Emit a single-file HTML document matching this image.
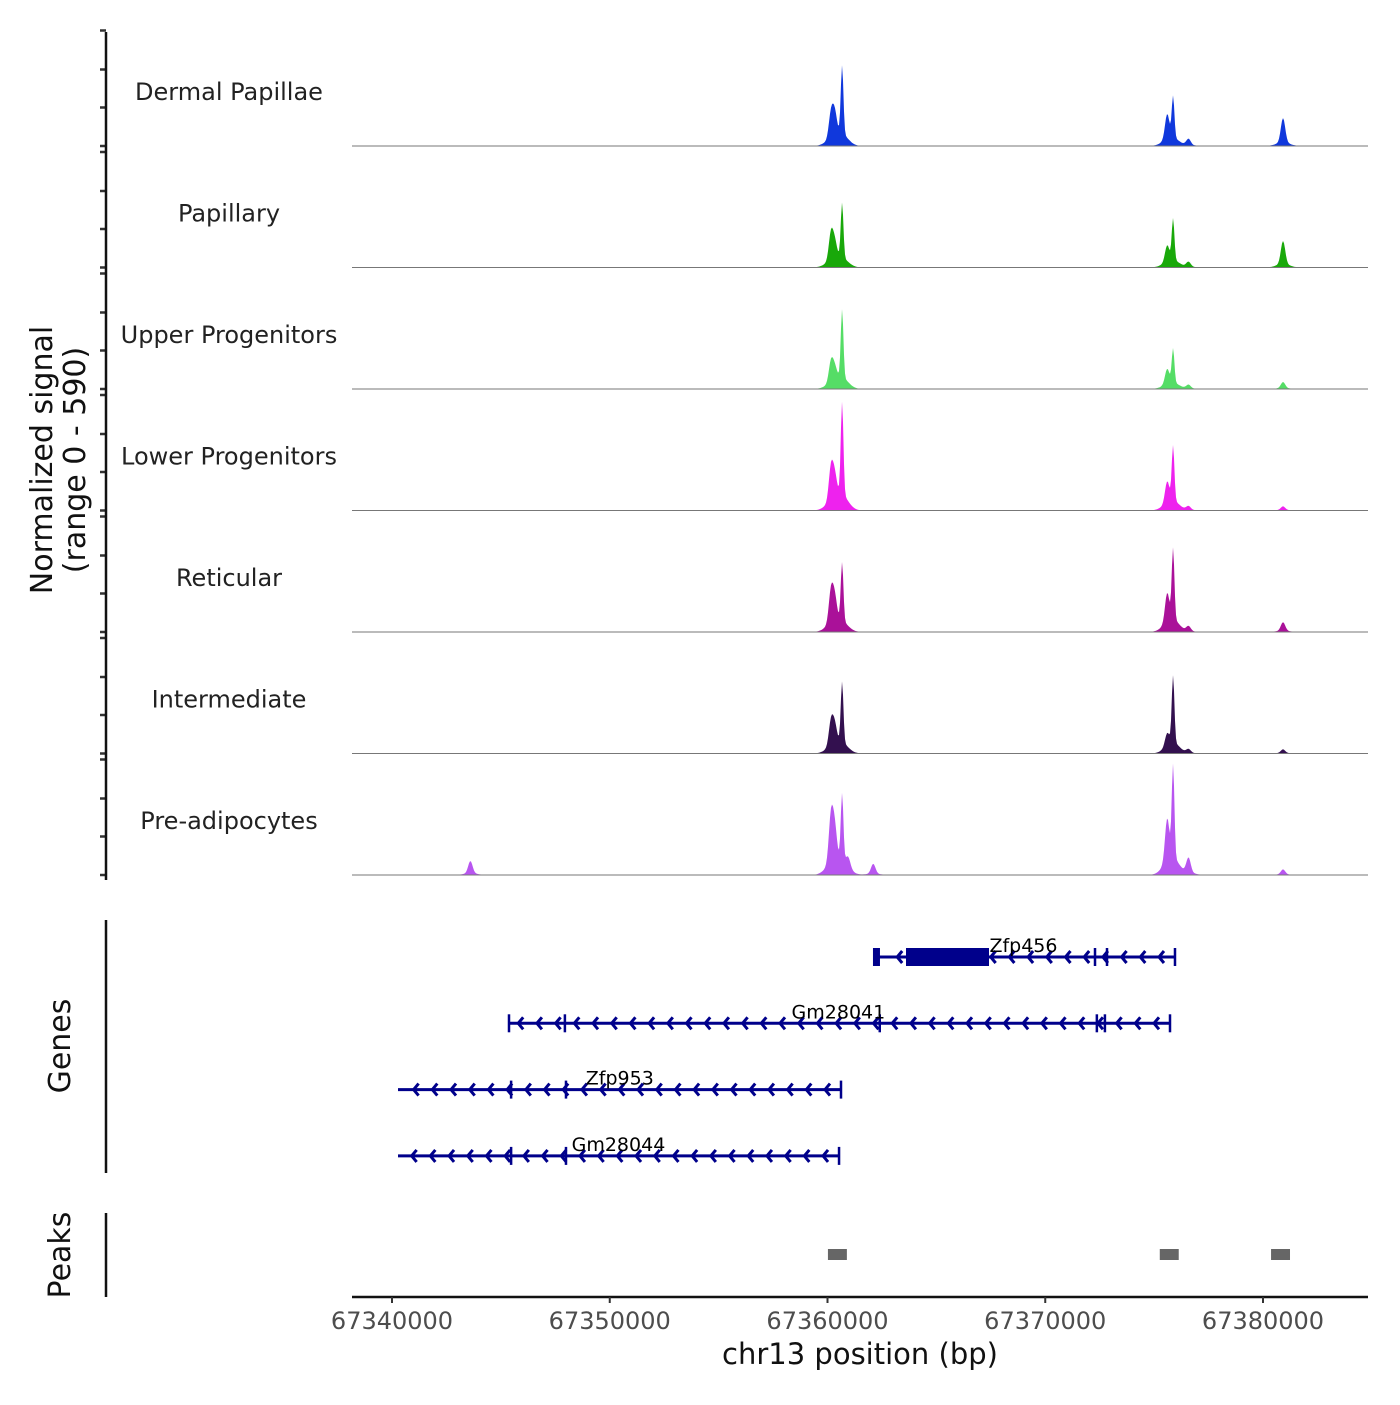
<!DOCTYPE html>
<html><head><meta charset="utf-8"><style>
body{margin:0;background:#fff}
svg text{font-family:"DejaVu Sans","Liberation Sans",sans-serif}
</style></head><body>
<svg id="c" width="1400" height="1400" viewBox="0 0 1400 1400" xmlns="http://www.w3.org/2000/svg"></svg>
<script>
const trackNames=["Dermal Papillae","Papillary","Upper Progenitors","Lower Progenitors","Reticular","Intermediate","Pre-adipocytes"];
const trackColors=["#1038dc","#19a80a","#55dd66","#ee22ee","#aa1199","#33104f","#b855f0"];
const peakPos=[67360160,67360330,67360670,67375600,67375870,67376580,67380920];
const dpVals=[0.2,0.18,0.56,0.2,0.34,0.05,0.2];
const papVals=[0.22,0.13,0.45,0.13,0.34,0.04,0.19];
const upVals=[0.17,0.1,0.56,0.12,0.28,0.03,0.05];
const lowVals=[0.27,0.17,0.76,0.17,0.45,0.03,0.03];
const retVals=[0.26,0.19,0.48,0.23,0.58,0.04,0.07];
const intVals=[0.2,0.15,0.5,0.1,0.55,0.03,0.03];
const preVals=[0.38,0.26,0.55,0.34,0.76,0.12,0.04];
const extraPos=[67343600,67362100,67360950];
const extraPre=[0.1,0.08,0.08];
const xTicks=[67340000,67350000,67360000,67370000,67380000];
const genes=[
 {name:"Zfp456",start:67362180,end:67375958,thick:[67363605,67367417],marks:[67362180,67372285,67372836,67375958],labelAt:67369000},
 {name:"Gm28041",start:67345373,end:67375729,thick:null,marks:[67345373,67347940,67362400,67372370,67372740,67375729],labelAt:67360500},
 {name:"Zfp953",start:67340276,end:67360620,thick:null,marks:[67345470,67347990,67360620],labelAt:67350460},
 {name:"Gm28044",start:67340276,end:67360530,thick:null,marks:[67345470,67347990,67360530],labelAt:67350400}
];
const peaksStart=[67360020,67375260,67380370];
const peaksEnd=[67360890,67376130,67381240];

const allVals=[dpVals,papVals,upVals,lowVals,retVals,intVals,preVals];
const svg=document.getElementById('c');
const NS="http://www.w3.org/2000/svg";
function mk(t,a,p){const e=document.createElementNS(NS,t);for(const k in a)e.setAttribute(k,a[k]);(p||svg).appendChild(e);return e;}
const X=bp=>392+(bp-67340000)*0.021775;
const x0=352,x1=1368,trackH=121.5,base0=146;

for(let i=0;i<7;i++){
  const g=mk('g',{});
  
  
  const b=base0+i*trackH;
  const comps=peakPos.map((p,k)=>[p,allVals[i][k]]);
  if(i===6) extraPos.forEach((p,k)=>comps.push([p,extraPre[k]]));
  let d='M'+x0+','+b;
  for(let px=x0;px<=x1;px+=1){
    const bp=67340000+(px-392)/0.021775;
    let v=0;
    comps.forEach(([p,h])=>{const s=p===67360670||p===67375870?60:100;const z=(bp-p)/s;v+=h*Math.exp(-z*z/2)+h*0.15*Math.exp(-(bp-p)*(bp-p)/(2*300*300));});
    d+=' L'+px+','+(b-Math.min(v,1)*trackH).toFixed(1);
  }
  d+=' L'+x1+','+b+' Z';
  const a=mk('path',{d:d,fill:trackColors[i]},g);
  
  
  mk('line',{x1:x0,x2:x1,y1:b,y2:b,stroke:'#777','stroke-width':1},g);
  const t=mk('text',{x:229,y:b-46,'text-anchor':'middle','font-size':24,fill:'#222'},g);
  t.textContent=trackNames[i];
  
  
  const top=b-trackH+6;
  [top,top+39,top+77,b].forEach(ty=>mk('line',{x1:100,x2:106,y1:ty,y2:ty,stroke:'#333','stroke-width':2.5},g));
}
mk('line',{x1:106,x2:106,y1:32,y2:880,stroke:'#111','stroke-width':2.5});
const yt=mk('text',{transform:'translate(52,460) rotate(-90)','text-anchor':'middle','font-size':30,fill:'#111'});


yt.innerHTML='<tspan x="0" dy="0">Normalized signal</tspan><tspan x="0" dy="33">(range 0 - 590)</tspan>';

// genes
mk('line',{x1:106,x2:106,y1:920,y2:1173,stroke:'#111','stroke-width':2.5});
const gt=mk('text',{transform:'translate(70,1046) rotate(-90)','text-anchor':'middle','font-size':30,fill:'#111'});
gt.textContent='Genes';


const gc='#00008b';
genes.forEach((gn,i)=>{
  const y=957+i*66.3;
  const g=mk('g',{});
  
  
  const a=X(gn.start),e=X(gn.end);
  mk('line',{x1:a,x2:e,y1:y,y2:y,stroke:gc,'stroke-width':3},g);
  for(let px=e-16;px>a+6;px-=18.7){
    mk('polyline',{points:(px+5)+','+(y-6)+' '+px+','+y+' '+(px+5)+','+(y+6),fill:'none',stroke:gc,'stroke-width':3},g);
  }
  gn.marks.forEach(m=>mk('line',{x1:X(m),x2:X(m),y1:y-9,y2:y+9,stroke:gc,'stroke-width':2.5},g));
  if(gn.thick) mk('rect',{x:X(gn.thick[0]),y:y-9,width:X(gn.thick[1])-X(gn.thick[0]),height:18,fill:gc},g);
  if(i===0) mk('rect',{x:X(gn.start)-2,y:y-9,width:7,height:18,fill:gc},g);
  const t=mk('text',{x:X(gn.labelAt),y:y-5,'text-anchor':'middle','font-size':19,fill:'#000'},g);
  t.textContent=gn.name;
});

// peaks
mk('line',{x1:106,x2:106,y1:1213,y2:1297,stroke:'#111','stroke-width':2.5});
const pt=mk('text',{transform:'translate(70,1255) rotate(-90)','text-anchor':'middle','font-size':30,fill:'#111'});
pt.textContent='Peaks';


peaksStart.forEach((s,k)=>{
  const r=mk('rect',{x:X(s),y:1249,width:X(peaksEnd[k])-X(s),height:11,fill:'#666'});
  
  
});

// x axis
mk('line',{x1:x0,x2:x1,y1:1297,y2:1297,stroke:'#111','stroke-width':2.5});
xTicks.forEach(t=>{
  mk('line',{x1:X(t),x2:X(t),y1:1297,y2:1303,stroke:'#333','stroke-width':2});
  const l=mk('text',{x:X(t),y:1329,'text-anchor':'middle','font-size':24,fill:'#4d4d4d'});
  l.textContent=t;
  
  
});
const xt=mk('text',{x:860,y:1364,'text-anchor':'middle','font-size':29,fill:'#111'});
xt.textContent='chr13 position (bp)';


</script>
</body></html>
